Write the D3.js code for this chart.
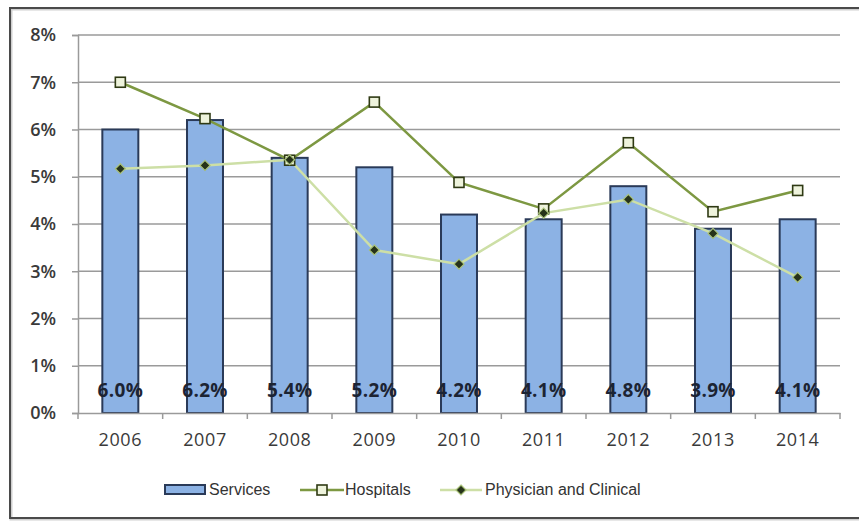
<!DOCTYPE html>
<html><head><meta charset="utf-8">
<script src="https://cdn.jsdelivr.net/npm/d3@7"></script>
<style>html,body{margin:0;padding:0;background:#fff;}svg{display:block;}</style>
</head><body>
<svg id="chart" width="859" height="523"></svg>
<script>
const years = ["2006","2007","2008","2009","2010","2011","2012","2013","2014"];
const services = [6.0, 6.2, 5.4, 5.2, 4.2, 4.1, 4.8, 3.9, 4.1];
const hospitals = [7.0, 6.23, 5.35, 6.58, 4.88, 4.32, 5.72, 4.26, 4.71];
const physician = [5.17, 5.24, 5.36, 3.45, 3.15, 4.23, 4.52, 3.8, 2.87];
const yTicks = [0, 1, 2, 3, 4, 5, 6, 7, 8];
const seriesNames = ["Services", "Hospitals", "Physician and Clinical"];

const svg = d3.select("#chart");
const L = 78, R = 840, T = 35, B = 413;
const barFill = "#8cb2e4", barStroke = "#2a3a58";
const hosColor = "#7d9842", phyColor = "#cddfa6";

// frame
svg.append("rect").attr("x", 11).attr("y", 9).attr("width", 870).attr("height", 510)
  .attr("fill", "none").attr("stroke", "#cfcfcf").attr("stroke-width", 3);
svg.append("rect").attr("x", 10).attr("y", 8).attr("width", 870).attr("height", 510)
  .attr("fill", "none").attr("stroke", "#4a4a4a").attr("stroke-width", 2);

const x = d3.scaleBand().domain(years).range([L, R]).paddingInner(0.575).paddingOuter(0.2875);
const y = d3.scaleLinear().domain([0, 8]).range([B, T]);

// gridlines
svg.append("g").selectAll("line").data(yTicks.filter(d => d > 0)).join("line")
  .attr("x1", L).attr("x2", R).attr("y1", d => y(d)).attr("y2", d => y(d))
  .attr("stroke", "#9a9a9a").attr("stroke-width", 1.5);

// y axis
const yAxis = svg.append("g").attr("transform", `translate(${L},0)`)
  .call(d3.axisLeft(y).tickValues(yTicks).tickFormat(d => d + "%").tickSize(6).tickPadding(16));
yAxis.select(".domain").attr("stroke", "#9a9a9a").attr("stroke-width", 1.5);
yAxis.selectAll(".tick line").attr("stroke", "#9a9a9a").attr("stroke-width", 1.5);
yAxis.selectAll("text").attr("font-family", "Open Sans").attr("font-size", 18)
  .attr("fill", "#3a3a3a").attr("font-weight", 600);

// bars
svg.append("g").selectAll("rect").data(years).join("rect")
  .attr("x", d => x(d)).attr("width", x.bandwidth())
  .attr("y", (d, i) => y(services[i])).attr("height", (d, i) => y(0) - y(services[i]))
  .attr("fill", barFill).attr("stroke", barStroke).attr("stroke-width", 2);

// x axis
const xAxis = svg.append("g").attr("transform", `translate(0,${B})`)
  .call(d3.axisBottom(x).tickSize(0).tickPadding(20));
xAxis.select(".domain").attr("stroke", "#9a9a9a").attr("stroke-width", 1.5);
xAxis.selectAll("text").attr("font-family", "Open Sans").attr("font-size", 18)
  .attr("fill", "#3a3a3a").attr("letter-spacing", 0.6);
const bounds = d3.range(years.length + 1).map(i => L + i * x.step());
svg.append("g").selectAll("line").data(bounds).join("line")
  .attr("x1", d => d).attr("x2", d => d).attr("y1", B).attr("y2", B + 6)
  .attr("stroke", "#9a9a9a").attr("stroke-width", 1.5);

const cx = d => x(d) + x.bandwidth() / 2;
const diamond = "M0,-5L5,0L0,5L-5,0Z";

// lines
const lineH = d3.line().x((d, i) => cx(years[i])).y(d => y(d));
svg.append("path").datum(physician).attr("d", lineH).attr("fill", "none")
  .attr("stroke", phyColor).attr("stroke-width", 2.5);
svg.append("path").datum(hospitals).attr("d", lineH).attr("fill", "none")
  .attr("stroke", hosColor).attr("stroke-width", 2.5);

// markers
svg.append("g").selectAll("rect").data(hospitals).join("rect")
  .attr("x", (d, i) => cx(years[i]) - 5).attr("y", d => y(d) - 5)
  .attr("width", 10).attr("height", 10)
  .attr("fill", "#eef3dc").attr("stroke", "#2f3a14").attr("stroke-width", 1.6);
svg.append("g").selectAll("path").data(physician).join("path")
  .attr("d", diamond)
  .attr("transform", (d, i) => `translate(${cx(years[i])},${y(d)})`)
  .attr("fill", "#26321a").attr("stroke", "#a9c27a").attr("stroke-width", 1.2);

// data labels
svg.append("g").selectAll("text").data(years).join("text")
  .attr("x", d => cx(d)).attr("y", 397).attr("text-anchor", "middle")
  .attr("font-family", "Open Sans").attr("font-weight", 700).attr("font-size", 19)
  .attr("fill", "#1c2433").attr("letter-spacing", 0.3)
  .text((d, i) => services[i].toFixed(1) + "%");

// legend
const lg = svg.append("g").attr("font-family", "Liberation Sans").attr("font-size", 16).attr("fill", "#333");
lg.append("rect").attr("x", 165).attr("y", 485).attr("width", 40).attr("height", 9)
  .attr("fill", barFill).attr("stroke", barStroke).attr("stroke-width", 2);
lg.append("text").attr("x", 209).attr("y", 495).text(seriesNames[0]);
lg.append("line").attr("x1", 300).attr("x2", 344).attr("y1", 490).attr("y2", 490)
  .attr("stroke", hosColor).attr("stroke-width", 2.5);
lg.append("rect").attr("x", 317).attr("y", 485).attr("width", 10).attr("height", 10)
  .attr("fill", "#eef3dc").attr("stroke", "#2f3a14").attr("stroke-width", 1.6);
lg.append("text").attr("x", 345).attr("y", 495).text(seriesNames[1]);
lg.append("line").attr("x1", 440).attr("x2", 482).attr("y1", 490).attr("y2", 490)
  .attr("stroke", phyColor).attr("stroke-width", 2.5);
lg.append("path").attr("d", diamond)
  .attr("transform", "translate(461,490)").attr("fill", "#26321a").attr("stroke", "#a9c27a").attr("stroke-width", 1.2);
lg.append("text").attr("x", 485).attr("y", 495).text(seriesNames[2]);
</script>
</body></html>
